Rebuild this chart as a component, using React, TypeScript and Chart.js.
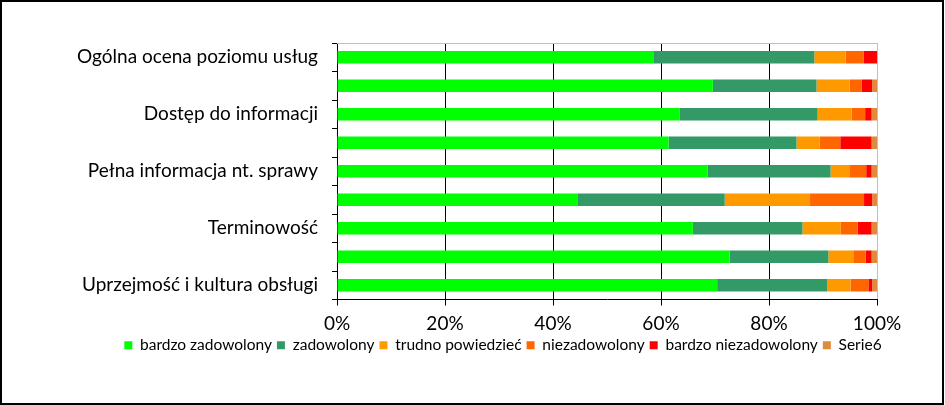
import React, { useEffect, useRef } from "react";
import { Chart, registerables } from "chart.js";

Chart.register(...registerables);

const categories = [
  "Ogólna ocena poziomu usług",
  "",
  "Dostęp do informacji",
  "",
  "Pełna informacja nt. sprawy",
  "",
  "Terminowość",
  "",
  "Uprzejmość i kultura obsługi",
];

const seriesNames = [
  "bardzo zadowolony",
  "zadowolony",
  "trudno powiedzieć",
  "niezadowolony",
  "bardzo niezadowolony",
  "Serie6",
];

const bardzoZadowolony = [58.7, 69.6, 63.5, 61.4, 68.6, 44.5, 65.9, 72.7, 70.4];
const zadowolony = [29.7, 19.2, 25.5, 23.7, 22.8, 27.3, 20.3, 18.3, 20.4];
const trudnoPowiedziec = [5.8, 6.1, 6.3, 4.3, 3.6, 15.8, 7.1, 4.6, 4.3];
const niezadowolony = [3.3, 2.3, 2.5, 3.8, 3.0, 10.0, 3.1, 2.3, 3.3];
const bardzoNiezadowolony = [2.5, 1.9, 1.2, 5.8, 1.0, 1.5, 2.6, 1.1, 0.7];
const serie6 = [0, 0.9, 1.0, 1.0, 1.0, 0.9, 1.0, 1.0, 0.9];

const xTicks = [0, 20, 40, 60, 80, 100];

const colors = ["#00FF00", "#339966", "#FF9900", "#FF6600", "#FF0000", "#E08A3E"];

const FONT = "Lato, 'Open Sans', sans-serif";

const framePlugin = {
  id: "frame",
  afterLayout(chart: any) {
    const lg = chart.legend;
    if (lg) {
      const shift = 503 - (lg.left + lg.right) / 2;
      lg.left += shift;
      lg.right += shift;
    }
  },
  beforeDatasetsDraw(chart: any) {
    const { ctx, chartArea } = chart;
    ctx.save();
    ctx.strokeStyle = "#BFBFBF";
    ctx.lineWidth = 1;
    ctx.beginPath();
    ctx.moveTo(chartArea.left, chartArea.top + 0.5);
    ctx.lineTo(chartArea.right, chartArea.top + 0.5);
    ctx.stroke();
    ctx.restore();
  },
  afterDraw(chart: any) {
    const { ctx, width, height } = chart;
    ctx.save();
    ctx.strokeStyle = "#000";
    ctx.lineWidth = 2;
    ctx.strokeRect(1, 1, width - 3, height - 2);
    ctx.restore();
  },
};

export default function App() {
  const ref = useRef<HTMLCanvasElement>(null);

  useEffect(() => {
    const seriesData = [
      bardzoZadowolony,
      zadowolony,
      trudnoPowiedziec,
      niezadowolony,
      bardzoNiezadowolony,
      serie6,
    ];
    const chart = new Chart(ref.current as HTMLCanvasElement, {
      type: "bar",
      data: {
        labels: categories,
        datasets: seriesNames.map((name, i) => ({
          label: name,
          data: seriesData[i],
          backgroundColor: colors[i],
          borderWidth: 0,
          barPercentage: 0.43,
          categoryPercentage: 1,
        })),
      },
      options: {
        indexAxis: "y",
        responsive: false,
        animation: false,
        layout: { padding: { left: 40, right: 68, top: 43, bottom: 42 } },
        plugins: {
          tooltip: { enabled: false },
          legend: {
            position: "bottom",
            labels: {
              boxWidth: 8,
              boxHeight: 8,
              padding: 5,
              color: "#000",
              font: { family: FONT, size: 15.5 },
            },
          },
        },
        scales: {
          x: {
            type: "linear",
            stacked: true,
            min: 0,
            max: 100,
            afterBuildTicks: (s: any) => {
              s.ticks = xTicks.map((v) => ({ value: v }));
            },
            afterFit: (s: any) => {
              s.height = 33;
            },
            ticks: {
              callback: (v: any) => v + "%",
              color: "#000",
              padding: 7,
              font: { family: FONT, size: 19 },
            },
            grid: {
              color: (c: any) => (c.tick && c.tick.value === 100 ? "#BFBFBF" : "#000"),
              tickColor: "#000",
              tickLength: 6,
            },
            border: { color: "#000" },
          },
          y: {
            type: "category",
            stacked: true,
            afterFit: (s: any) => {
              s.width = 297;
            },
            ticks: {
              autoSkip: false,
              color: "#000",
              padding: 14,
              font: { family: FONT, size: 19 },
            },
            grid: {
              drawOnChartArea: false,
              offset: true,
              tickLength: 5,
              color: "#000",
            },
            border: { color: "#000" },
          },
        },
      },
      plugins: [framePlugin],
    });
    return () => chart.destroy();
  }, []);

  return (
    <div style={{ position: "absolute", left: 0, top: 0, width: 945, height: 405 }}>
      <canvas ref={ref} width={945} height={405} style={{ display: "block" }} />
    </div>
  );
}
